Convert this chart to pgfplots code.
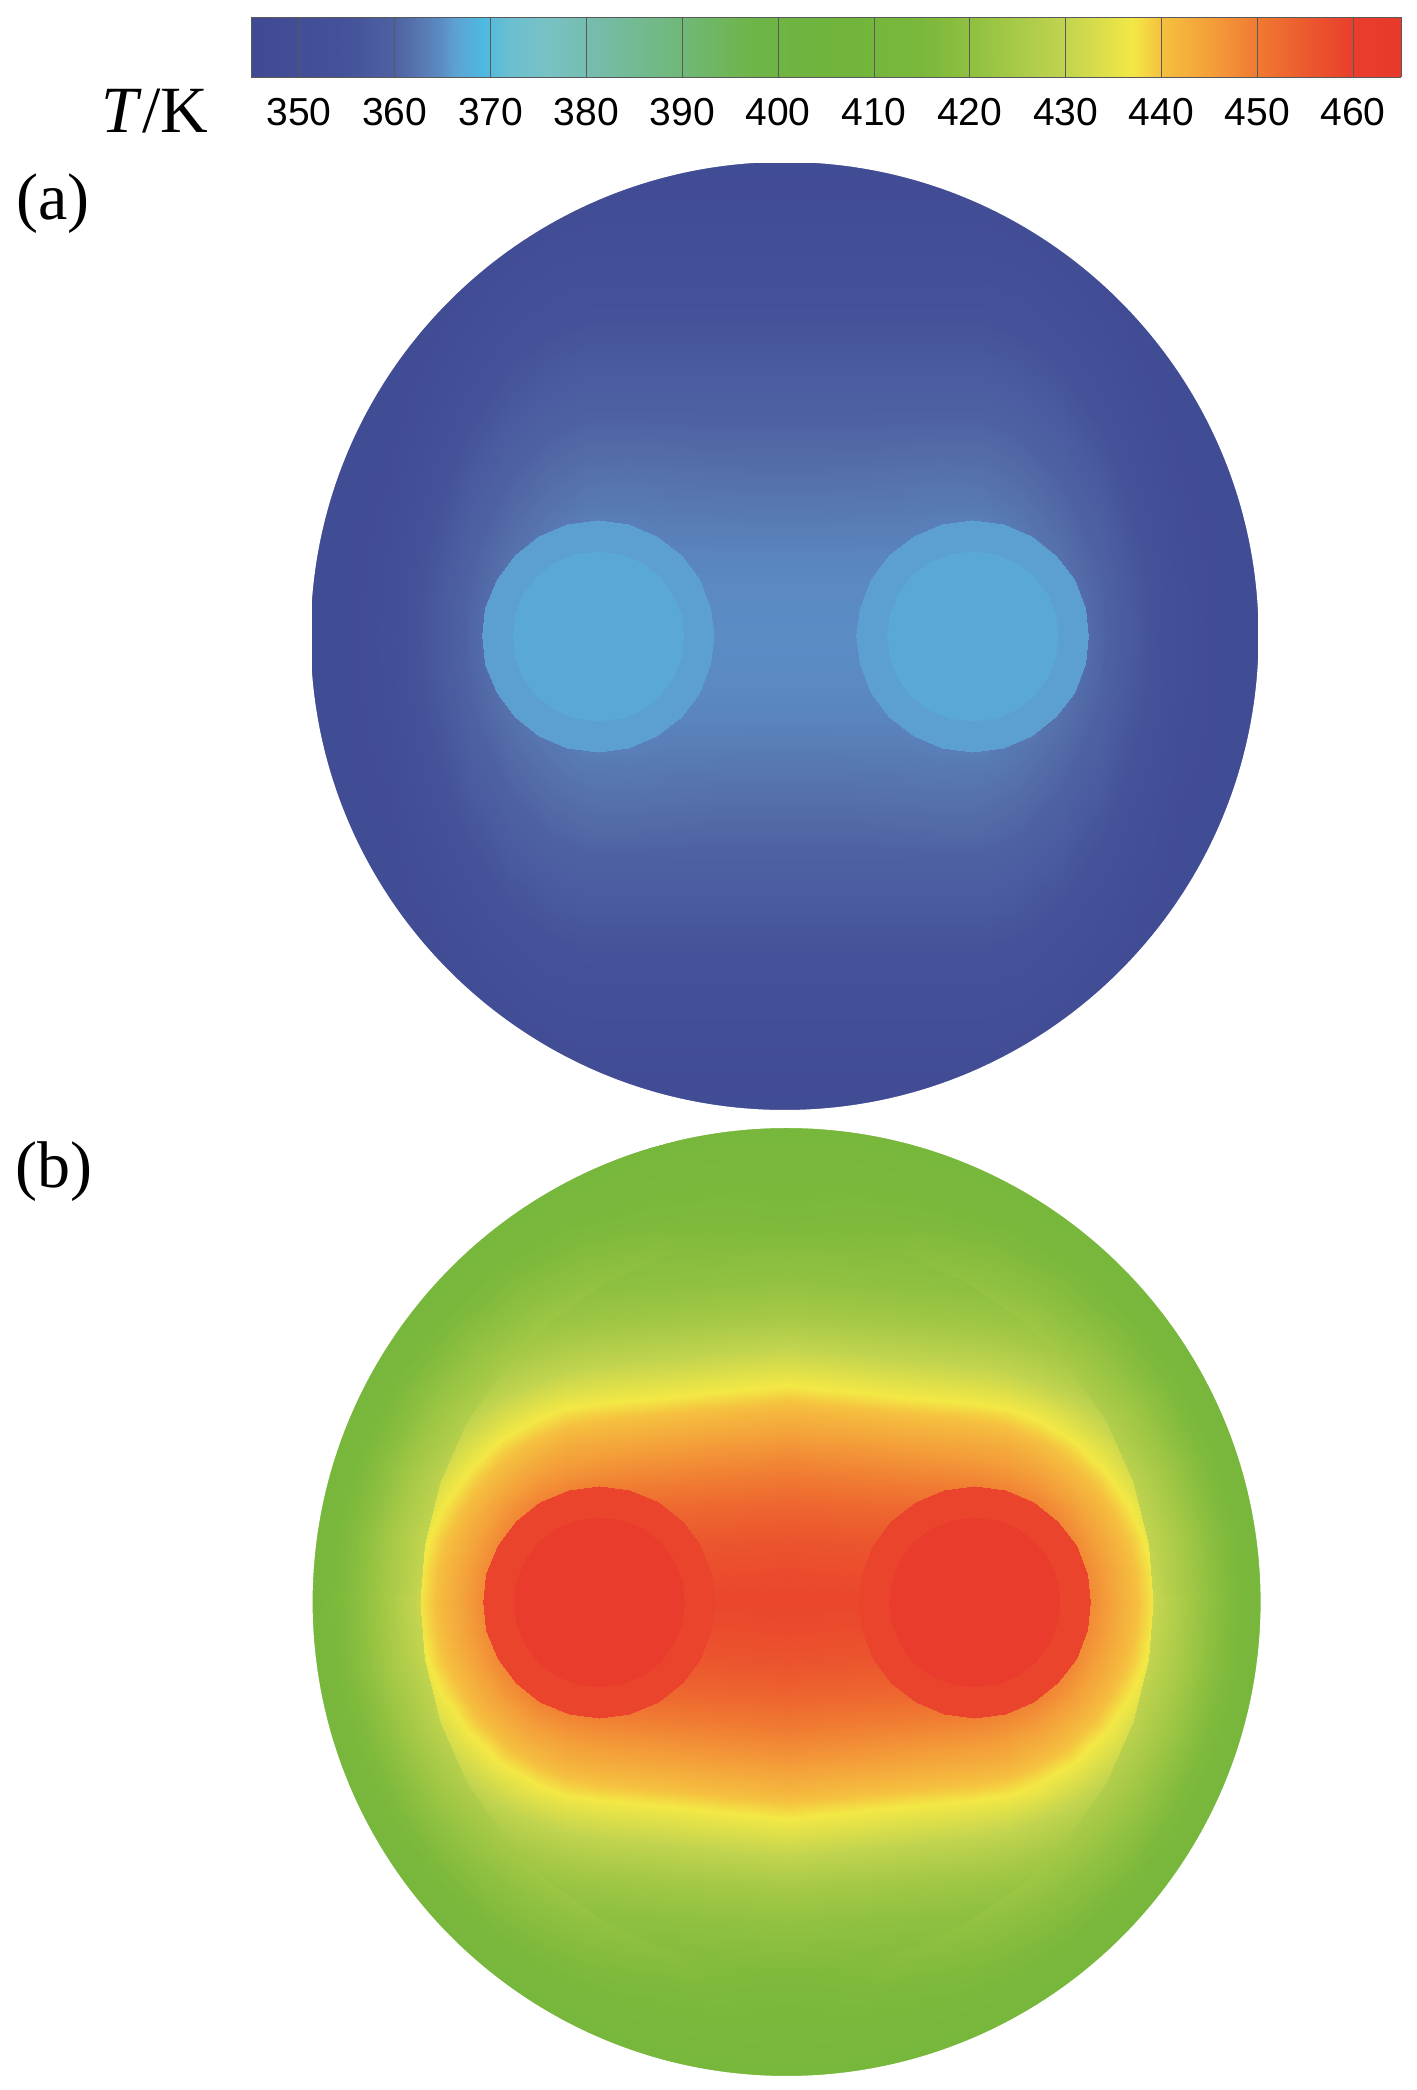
\documentclass[border=0pt]{standalone}
\usepackage{pgfplots}
\pgfplotsset{compat=1.18}
\usepackage{pgfplotstable}
\usepackage{fontspec}
\setmainfont{Liberation Serif}
\newfontfamily\arial{Liberation Sans}
\pgfplotsset{colormap={heat}{
rgb255(345)=(63,74,146) rgb255(355)=(69,82,153) rgb255(360)=(78,98,163) rgb255(362)=(86,114,173) rgb255(365)=(92,142,198) rgb255(366)=(92,158,208) rgb255(367)=(90,168,213) rgb255(369)=(77,184,224) rgb255(372)=(107,191,208) rgb255(376)=(120,194,196) rgb255(380)=(118,188,176) rgb255(390)=(112,184,120) rgb255(397)=(110,181,74) rgb255(405)=(111,180,60) rgb255(415)=(122,184,60) rgb255(420)=(143,192,64) rgb255(430)=(194,212,79) rgb255(437)=(243,232,69) rgb255(440)=(245,192,63) rgb255(445)=(244,160,58) rgb255(450)=(240,122,50) rgb255(455)=(236,90,46) rgb255(460)=(233,62,44) rgb255(465)=(232,57,43)}}
\pgfplotsset{disc/.style={scale only axis,width=483.48pt,height=483.48pt,at={(#1)},anchor=center,hide axis,view={0}{90},xmin=-1.02,xmax=1.02,ymin=-1.02,ymax=1.02,zmin=-1,zmax=1,point meta min=345,point meta max=465}}
% quadrant of a rectangular grid: table, cols, step, sign x, sign y
\newcommand\rectq[5]{\addplot3[surf,shader=interp,mesh/cols=#2,point meta=explicit] table[x index=0,y index=0,z index=0,meta index=0,x expr={#4*(mod(\coordindex,#2)*#3-0.002)},y expr={#5*(floor((\coordindex+0.5)/#2)*#3-0.002)},z expr=0]{#1};}
\newcommand\rectall[3]{\rectq{#1}{#2}{#3}{1}{1}\rectq{#1}{#2}{#3}{-1}{1}\rectq{#1}{#2}{#3}{1}{-1}\rectq{#1}{#2}{#3}{-1}{-1}}
% quadrant of a polar grid: table, cols, cx, r0, dr, dtheta, sign x, sign y
\newcommand\polq[8]{\addplot3[surf,shader=interp,mesh/cols=#2,point meta=explicit] table[x index=0,y index=0,z index=0,meta index=0,x expr={#3+#7*(#4+floor((\coordindex+0.5)/#2)*#5)*cos(-1+mod(\coordindex,#2)*#6)},y expr={#8*(#4+floor((\coordindex+0.5)/#2)*#5)*sin(-1+mod(\coordindex,#2)*#6)},z expr=0]{#1};}
\newcommand\polall[6]{\polq{#1}{#2}{#3}{#4}{#5}{#6}{1}{1}\polq{#1}{#2}{#3}{#4}{#5}{#6}{-1}{1}\polq{#1}{#2}{#3}{#4}{#5}{#6}{1}{-1}\polq{#1}{#2}{#3}{#4}{#5}{#6}{-1}{-1}}
% panel (a) field, x=0..1 step 1/12, y=0..1 step 1/12
\pgfplotstableread[row sep=crcr,header=false]{
364.8\\364.8\\364.8\\364.8\\364.8\\364.8\\364.3\\362.8\\360.5\\356.8\\350.4\\347\\347\\
364.6\\364.6\\364.6\\364.6\\364.6\\364.6\\364.1\\362.5\\360.3\\356.5\\350.2\\347\\347\\
364.1\\364.1\\364.1\\364.1\\364.1\\364\\363.4\\361.9\\359.8\\355.7\\349.7\\347\\347\\
362.9\\362.9\\363\\363\\363.2\\363.2\\362.3\\361\\358.9\\354.4\\348.8\\347\\347\\
361.8\\361.8\\361.9\\362\\362.1\\362\\361.3\\360\\357.6\\352.8\\348\\347\\347\\
360.6\\360.6\\360.6\\360.7\\360.8\\360.8\\360.1\\358.7\\355.7\\351\\347.2\\347\\347\\
359.3\\359.3\\359.3\\359.3\\359.3\\359.3\\358.5\\356.9\\353.5\\349.3\\347\\347\\347\\
357.4\\357.4\\357.4\\357.4\\357.4\\357.4\\356.6\\354.5\\351.2\\348\\347\\347\\347\\
355\\355\\355\\355\\355\\355\\354.1\\352\\349.3\\347.1\\347\\347\\347\\
352.5\\352.5\\352.5\\352.5\\352.5\\352.5\\351.6\\349.9\\347.8\\347\\347\\347\\347\\
350.2\\350.2\\350.2\\350.2\\350.2\\350.2\\349.5\\348.1\\347\\347\\347\\347\\347\\
348.2\\348.2\\348.2\\348.2\\348.2\\348.2\\347.8\\347\\347\\347\\347\\347\\347\\
347\\347\\347\\347\\347\\347\\347\\347\\347\\347\\347\\347\\347\\
}\tbA
% hot discs of (a), r rows 2, angle 0..90 step 15
\pgfplotstableread[row sep=crcr,header=false]{
366.4\\366.4\\366.4\\366.4\\366.4\\366.4\\366.4\\
366.1\\366.1\\366.1\\366.1\\366.1\\366.1\\366.1\\
}\tbAo
\pgfplotstableread[row sep=crcr,header=false]{
367\\367\\367\\367\\367\\367\\367\\
367\\367\\367\\367\\367\\367\\367\\
}\tbAi
% panel (b) inner field, x=0..0.8 step 1/15, y=0..0.8 step 1/15
\pgfplotstableread[row sep=crcr,header=false]{
458.5\\458.5\\458.5\\458.3\\458.2\\458.1\\458\\456.2\\453.5\\450.6\\446.2\\441\\434.8\\
457.7\\457.5\\457.4\\457.3\\457.1\\457\\456.8\\455.4\\453\\450\\445.7\\440.4\\434.4\\
456\\455.8\\455.6\\455.4\\455.2\\455\\454.8\\453.8\\451.9\\448.5\\444\\439\\433\\
453.5\\453.3\\453.1\\452.9\\452.7\\452.5\\452.3\\451.2\\449.2\\445.8\\441.4\\436.5\\430.6\\
450.2\\449.8\\449.5\\449.2\\448.8\\448.5\\448\\447\\445.3\\442\\438.2\\433\\428\\
446.5\\446\\445.8\\445.3\\444.8\\444.3\\443.8\\443\\440.8\\438\\433.8\\429.3\\424.8\\
441.8\\441.3\\440.8\\440.3\\439.7\\439.2\\438.7\\437.8\\435.8\\432.7\\429\\425.3\\422\\
436.4\\435.8\\435.3\\434.6\\434\\433.5\\432.9\\431.8\\429.9\\427.4\\424.5\\422\\420\\
430.5\\429.9\\429.4\\428.8\\428.2\\427.7\\427.2\\426.2\\424.8\\423\\421.3\\420\\418\\
425\\424.5\\424.2\\423.8\\423.4\\423\\422.6\\422\\421.2\\420.2\\419\\418\\417\\
421.3\\421\\420.8\\420.5\\420.2\\420\\419.7\\419.3\\418.6\\417.7\\417\\416\\415\\
418.7\\418.5\\418.3\\418\\417.8\\417.6\\417.4\\417\\416.7\\416\\415\\415\\414\\
416\\416\\415.5\\415.5\\415.5\\415\\415\\415\\414.5\\414\\414\\413\\413\\
}\tbB
% outer ring of (b): r=.775,.852,.929,1.006 ; angle 0..90 step 10
\pgfplotstableread[row sep=crcr,header=false]{
431\\430\\429\\427\\425\\423\\421\\419\\417\\416.5\\
424\\424\\423\\422\\420.5\\419\\417.5\\416\\415.5\\415\\
417\\417\\416.5\\416\\415.5\\415\\414.5\\414\\414\\414\\
412\\412\\412\\412\\412\\412\\412\\412\\412\\412\\
}\tbBr
\pgfplotstableread[row sep=crcr,header=false]{
459\\459\\459\\459\\459\\459\\459\\
459\\459\\459\\459\\459\\459\\459\\
}\tbBo
\pgfplotstableread[row sep=crcr,header=false]{
461.5\\461.5\\461.5\\461.5\\461.5\\461.5\\461.5\\
461.5\\461.5\\461.5\\461.5\\461.5\\461.5\\461.5\\
}\tbBi
\begin{document}
\begin{tikzpicture}[x=1pt,y=1pt]
\path[use as bounding box] (0,0) rectangle (708.5,1045);
% colour bar
\begin{axis}[scale only axis,width=575pt,height=30pt,at={(413pt,1021.5pt)},anchor=center,view={0}{90},xmin=345,xmax=465,ymin=0,ymax=1,zmin=-1,zmax=1,point meta min=345,point meta max=465,
 xtick={350,360,370,380,390,400,410,420,430,440,450,460},ytick=\empty,ztick=\empty,major tick length=0pt,xmajorgrids,grid style={black!65,line width=0.4pt},axis on top,axis line style={black!65,line width=0.4pt},
 /pgf/number format/assume math mode=true,xticklabel style={font=\arial\fontsize{19.5}{20}\selectfont,inner sep=0pt,yshift=-10.3pt}]
\addplot3[surf,shader=interp,mesh/cols=13,point meta=x] table[row sep=crcr,z expr=0]{
x y\\
345 0\\355 0\\365 0\\375 0\\385 0\\395 0\\405 0\\415 0\\425 0\\435 0\\445 0\\455 0\\465 0\\
345 1\\355 1\\365 1\\375 1\\385 1\\395 1\\405 1\\415 1\\425 1\\435 1\\445 1\\455 1\\465 1\\
};
\end{axis}
\node[anchor=base,font=\fontsize{33}{33}\selectfont,inner sep=0pt] at (77.5,978.5) {\textit{T}/K};
\node[anchor=base,font=\fontsize{33}{33}\selectfont,inner sep=0pt] at (26.5,935.3) {(a)};
\node[anchor=base,font=\fontsize{33}{33}\selectfont,inner sep=0pt] at (27,451) {(b)};
% panel (a)
\begin{axis}[disc={392.3pt,727pt}]
\rectall{\tbA}{13}{0.083333}
\polall{\tbAo}{7}{-0.394}{0}{0.245}{15.1667}
\polall{\tbAo}{7}{0.396}{0}{0.245}{15.1667}
\polall{\tbAi}{7}{-0.394}{0}{0.18}{15.1667}
\polall{\tbAi}{7}{0.396}{0}{0.18}{15.1667}
\fill[white,even odd rule] (axis cs:-1.02,-1.02,0) rectangle (axis cs:1.02,1.02,0) (axis cs:0,0,0) circle[radius=237pt];
\end{axis}
% panel (b)
\begin{axis}[disc={393.3pt,244pt}]
\rectall{\tbB}{13}{0.066667}
\polall{\tbBr}{10}{0}{0.775}{0.077}{10.1111}
\polall{\tbBo}{7}{-0.396}{0}{0.245}{15.1667}
\polall{\tbBo}{7}{0.396}{0}{0.245}{15.1667}
\polall{\tbBi}{7}{-0.396}{0}{0.18}{15.1667}
\polall{\tbBi}{7}{0.396}{0}{0.18}{15.1667}
\fill[white,even odd rule] (axis cs:-1.02,-1.02,0) rectangle (axis cs:1.02,1.02,0) (axis cs:0,0,0) circle[radius=237pt];
\end{axis}
\end{tikzpicture}
\end{document}
